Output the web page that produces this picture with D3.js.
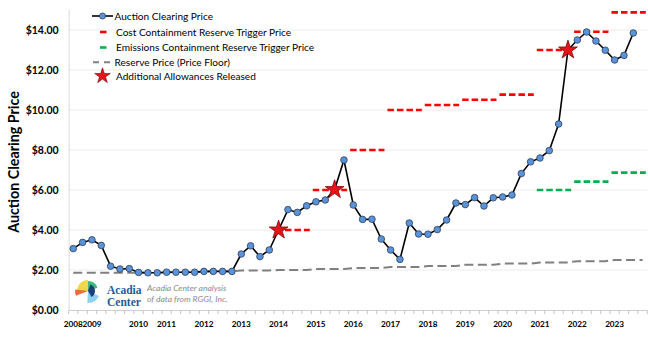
<!DOCTYPE html>
<html><head><meta charset="utf-8">
<script src="https://cdn.jsdelivr.net/npm/d3@7/dist/d3.min.js"></script>
<style>
html,body{margin:0;padding:0;background:#fff;}
svg{display:block;font-family:Lato,"Open Sans",sans-serif;}
</style></head>
<body>
<svg id="chart" width="648" height="339"></svg>
<script>
// ---- DATA ----
const clearingPrice = [3.07,3.38,3.51,3.23,2.19,2.05,2.07,1.88,1.86,1.86,1.89,1.89,1.89,1.89,1.93,1.93,1.93,1.93,2.80,3.21,2.67,3.00,4.00,5.02,4.88,5.21,5.41,5.50,6.02,7.50,5.25,4.53,4.54,3.55,3.00,2.53,4.35,3.80,3.79,4.02,4.50,5.35,5.27,5.62,5.20,5.61,5.65,5.75,6.82,7.41,7.60,7.97,9.30,13.00,13.50,13.90,13.45,12.99,12.50,12.73,13.85];
const reservePrice = [1.86,1.86,1.86,1.86,1.86,1.86,1.86,1.86,1.86,1.86,1.89,1.89,1.89,1.89,1.93,1.93,1.93,1.93,1.98,1.98,1.98,1.98,2.00,2.00,2.00,2.00,2.05,2.05,2.05,2.05,2.10,2.10,2.10,2.10,2.15,2.15,2.15,2.15,2.20,2.20,2.20,2.20,2.26,2.26,2.26,2.26,2.32,2.32,2.32,2.32,2.38,2.38,2.38,2.38,2.44,2.44,2.44,2.44,2.50,2.50,2.50,2.50];
const releaseIdx = [22,28,53];
const ccrStart = [22,26,30,34,38,42,46,50,54,58];
const ccrPrice = [4.00,6.00,8.00,10.00,10.25,10.51,10.77,13.00,13.91,14.88];
const ecrStart = [50,54,58];
const ecrPrice = [6.00,6.42,6.87];
const yearLabels = ["2008","2009","2010","2011","2012","2013","2014","2015","2016","2017","2018","2019","2020","2021","2022","2023"];
const yearLabelIdx = [0,2,7,10,14,18,22,26,30,34,38,42,46,50,54,58];
const yTicks = [0,2,4,6,8,10,12,14];
const legendLabels = ["Auction Clearing Price","Cost Containment Reserve Trigger Price","Emissions Containment Reserve Trigger Price","Reserve Price (Price Floor)","Additional Allowances Released"];
const nCategories = 62;

// ---- LAYOUT ----
const svg = d3.select("#chart");
const L = 68.6, R = 647.3, T = 10, B = 310;
const x = d3.scaleBand().domain(d3.range(nCategories)).range([L, R]).padding(0);
const cx = i => x(i) + x.bandwidth()/2;
const y = d3.scaleLinear().domain([0, 15]).range([B, T]);

// gridlines
svg.append("g").selectAll("line").data(yTicks.filter(d=>d>0)).join("line")
  .attr("x1", L).attr("x2", R).attr("y1", d=>y(d)).attr("y2", d=>y(d))
  .attr("stroke", "#ececec").attr("stroke-width", 1);

// y axis
const yAxis = d3.axisLeft(y).tickValues(yTicks).tickSize(0).tickPadding(10)
  .tickFormat(d => "$" + d3.format(".2f")(d));
const gy = svg.append("g").attr("transform", `translate(${L},0)`).call(yAxis);
gy.select(".domain").attr("stroke", "#d9d9d9");
gy.selectAll("text").attr("font-size", 10.5).attr("font-weight", "bold").attr("fill", "#000")
  .attr("font-family", "Lato, sans-serif");
gy.select(".domain").attr("d", `M0.5,${T}V${B}`);

// x axis: minor ticks at category boundaries
const gx = svg.append("g").attr("transform", `translate(0,${B})`);
gx.append("line").attr("x1", L).attr("x2", R).attr("y1", 0.5).attr("y2", 0.5).attr("stroke", "#d0d0d0");
gx.selectAll("line.t").data(d3.range(nCategories + 1)).join("line").attr("class","t")
  .attr("x1", i => (i < nCategories ? x(i) : R)).attr("x2", i => (i < nCategories ? x(i) : R))
  .attr("y1", 0.5).attr("y2", 4).attr("stroke", "#c8c8c8");
gx.selectAll("text").data(yearLabels).join("text")
  .attr("x", (d,i) => cx(yearLabelIdx[i])).attr("y", 17)
  .attr("text-anchor", "middle").attr("font-size", 8.2).attr("font-weight", "bold")
  .attr("fill", "#000").text(d => d);

// y title
svg.append("text").attr("transform", "translate(18.5,162) rotate(-90)")
  .attr("text-anchor", "middle").attr("font-size", 14.3).attr("font-weight", "bold")
  .attr("fill", "#000").text("Auction Clearing Price");

// reserve price line
svg.append("path").datum(reservePrice)
  .attr("d", d3.line().x((d,i)=>cx(i)).y(d=>y(d)))
  .attr("fill", "none").attr("stroke", "#808080").attr("stroke-width", 2)
  .attr("stroke-dasharray", "9,4.5");

// CCR and ECR segments
function segs(starts, prices, color) {
  svg.append("g").selectAll("line").data(prices).join("line")
    .attr("x1", (d,i) => x(starts[i]) + 1.5)
    .attr("x2", (d,i) => x(starts[i] + 3) + x.bandwidth() - 1.5)
    .attr("y1", d => y(d)).attr("y2", d => y(d))
    .attr("stroke", color).attr("stroke-width", 2.6).attr("stroke-dasharray", "6.5,3");
}
segs(ccrStart, ccrPrice, "#ff0000");
segs(ecrStart, ecrPrice, "#00b050");

// clearing price line
svg.append("path").datum(clearingPrice)
  .attr("d", d3.line().x((d,i)=>cx(i)).y(d=>y(d)))
  .attr("fill", "none").attr("stroke", "#000").attr("stroke-width", 1.6);
svg.append("g").selectAll("circle").data(clearingPrice).join("circle")
  .attr("cx", (d,i)=>cx(i)).attr("cy", d=>y(d)).attr("r", 3.3)
  .attr("fill", "#5b93d8").attr("stroke", "#2c3f5c").attr("stroke-width", 0.8);

// stars
const star = d3.symbol().type(d3.symbolStar).size(110);
svg.append("g").selectAll("path").data(releaseIdx).join("path")
  .attr("d", star).attr("transform", i => `translate(${cx(i)},${y(clearingPrice[i])})`)
  .attr("fill", "#e8121b").attr("stroke", "#6b0000").attr("stroke-width", 0.7);

// legend
const lg = svg.append("g");
const rowsY = [16, 32, 47.5, 62.3, 76];
lg.append("line").attr("x1", 92).attr("x2", 113).attr("y1", rowsY[0]).attr("y2", rowsY[0]).attr("stroke", "#000").attr("stroke-width", 1.6);
lg.append("circle").attr("cx", 102.5).attr("cy", rowsY[0]).attr("r", 3).attr("fill", "#5b93d8").attr("stroke", "#2c3f5c").attr("stroke-width", 0.8);
lg.append("line").attr("x1", 100).attr("x2", 106.5).attr("y1", rowsY[1]).attr("y2", rowsY[1]).attr("stroke", "#ff0000").attr("stroke-width", 2.6);
lg.append("line").attr("x1", 100).attr("x2", 106.5).attr("y1", rowsY[2]).attr("y2", rowsY[2]).attr("stroke", "#00b050").attr("stroke-width", 2.6);
lg.append("line").attr("x1", 93).attr("x2", 113).attr("y1", rowsY[3]).attr("y2", rowsY[3]).attr("stroke", "#808080").attr("stroke-width", 2).attr("stroke-dasharray", "6,5");
lg.append("path").attr("d", d3.symbol().type(d3.symbolStar).size(75)).attr("transform", `translate(102.5,${rowsY[4]})`)
  .attr("fill", "#e8121b").attr("stroke", "#6b0000").attr("stroke-width", 0.6);
lg.selectAll("text").data(legendLabels).join("text")
  .attr("x", (d,i) => (i === 0 || i === 3) ? 114.5 : 116).attr("y", (d,i) => rowsY[i] + 3.6)
  .attr("font-size", 10.1).attr("fill", "#000").text(d => d);

// logo
const logo = svg.append("g").attr("transform", "translate(88,291)");
const arc = d3.arc();
const wedges = [
  {a0:-1.75, a1:0.0, r:11, c:"#f2d64b"},
  {a0:0.0, a1:1.25, r:10, c:"#3dba7c"},
  {a0:2.0, a1:3.2, r:12, c:"#8fd0f0"},
  {a0:-1.95, a1:-1.45, r:13, c:"#f26a3c"},
  {a0:0.35, a1:2.6, r:7, c:"#1c3f78"}
];
logo.selectAll("path").data(wedges).join("path")
  .attr("d", d => arc({innerRadius:0, outerRadius:d.r, startAngle:d.a0, endAngle:d.a1}))
  .attr("fill", d => d.c);
svg.append("text").attr("x", 107).attr("y", 294).attr("font-family", "'Liberation Serif', 'DejaVu Serif', serif")
  .attr("font-weight", "bold").attr("font-size", 11.5).attr("fill", "#1f5b99").text("Acadia");
svg.append("text").attr("x", 107).attr("y", 306).attr("font-family", "'Liberation Serif', 'DejaVu Serif', serif")
  .attr("font-weight", "bold").attr("font-size", 11.5).attr("fill", "#1f5b99").text("Center");
svg.append("text").attr("x", 147).attr("y", 291).attr("font-style", "italic").attr("font-size", 8.5)
  .attr("fill", "#8a8a8a").text("Acadia Center analysis");
svg.append("text").attr("x", 147).attr("y", 302).attr("font-style", "italic").attr("font-size", 8.5)
  .attr("fill", "#8a8a8a").text("of data from RGGI, Inc.");
</script>
</body></html>
